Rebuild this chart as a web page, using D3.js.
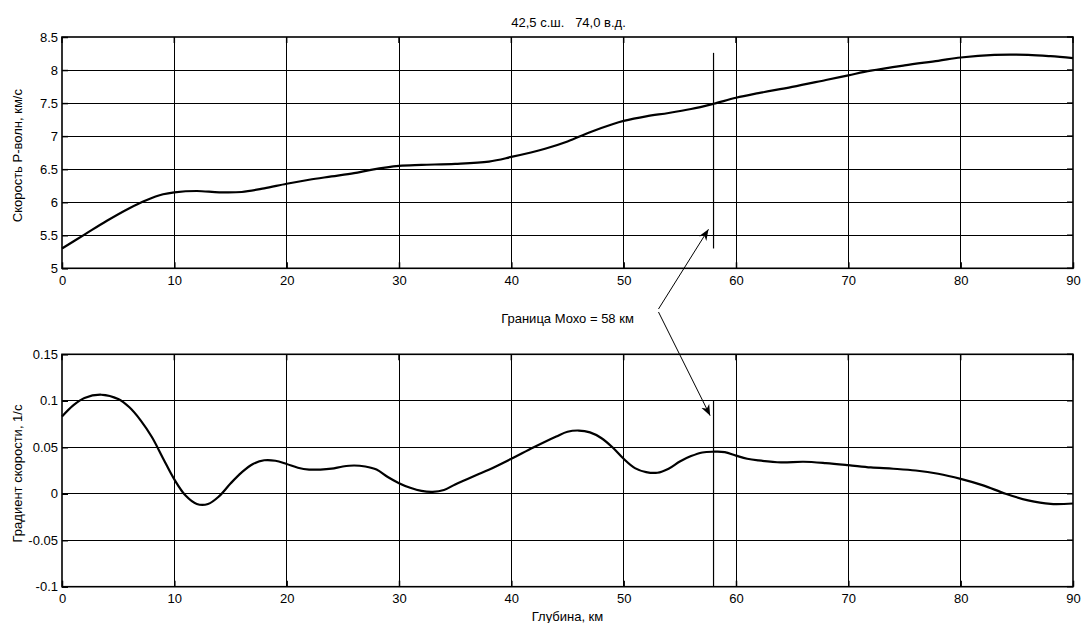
<!DOCTYPE html>
<html><head><meta charset="utf-8">
<script src="https://cdn.jsdelivr.net/npm/d3@7"></script>
<style>
body{margin:0;background:#fff;}
text{font-family:"Liberation Sans",Arial,sans-serif;fill:#000;}
</style></head>
<body><svg id="c" width="1081" height="623"></svg>
<script>
const title = "42,5 с.ш.   74,0 в.д.";
const yLabelTop = "Скорость P-волн, км/с";
const yLabelBottom = "Градиент скорости, 1/с";
const xLabel = "Глубина, км";
const mohoLabel = "Граница Мохо = 58 км";
const mohoDepth = 58;

const xTicks = [0,10,20,30,40,50,60,70,80,90];
const vTicks = [5,5.5,6,6.5,7,7.5,8,8.5];
const gTicks = [-0.1,-0.05,0,0.05,0.1,0.15];

const vDepth = [0,2,4,6,7.5,9,10,12,14,16,18,20,22,24,26,27.5,30,32,35,38,40,43,45,47,49,50,52,54,56,58,60,62,65,68,70,72,75,78,80,83,86,88,90];
const vValues = [5.30,5.51,5.72,5.91,6.03,6.12,6.15,6.17,6.15,6.155,6.21,6.28,6.34,6.39,6.44,6.49,6.55,6.565,6.58,6.615,6.685,6.81,6.92,7.06,7.18,7.23,7.30,7.35,7.41,7.49,7.58,7.65,7.745,7.85,7.92,7.99,8.07,8.14,8.19,8.23,8.23,8.21,8.18];

const gDepth = [0,1,2,3.5,5,6,7,8,9,10,11,12,13,14,15,16,17,18,19,20,21,22,23,24,25,26,27,28,29,30,31,32,33,34,35,36,37,38,40,42,44,45,46,47,48,49,50,51,52,53,54,55,56,57,58,59,60,61,62,64,66,68,70,72,74,76,78,80,82,84,86,88,90];
const gValues = [0.083,0.095,0.103,0.1065,0.102,0.093,0.079,0.061,0.038,0.0154,-0.002,-0.011,-0.011,-0.0025,0.011,0.023,0.032,0.036,0.0355,0.032,0.028,0.026,0.026,0.027,0.0293,0.0304,0.0293,0.026,0.018,0.0114,0.0064,0.003,0.002,0.004,0.010,0.0154,0.0207,0.0258,0.0376,0.050,0.0616,0.0667,0.068,0.066,0.060,0.050,0.0376,0.0276,0.0233,0.0226,0.027,0.0347,0.0405,0.0444,0.0452,0.0448,0.041,0.0376,0.0358,0.0337,0.0344,0.033,0.0308,0.0283,0.0269,0.025,0.0215,0.016,0.009,0.0,-0.0072,-0.011,-0.0105];

const svg = d3.select("#c");
const L = 62, R = 1073;
const FS = 13;
const x = d3.scaleLinear().domain([0,90]).range([L,R]);
const yV = d3.scaleLinear().domain([5,8.5]).range([268.3,37]);
const yG = d3.scaleLinear().domain([-0.1,0.15]).range([586.7,354.3]);

function panel(y, yTicks, fmt, depth, vals, label) {
  const [b,t] = y.range();
  const g = svg.append("g");
  g.selectAll(".gx").data(xTicks.slice(1,-1)).join("line")
    .attr("x1",d=>x(d)).attr("x2",d=>x(d)).attr("y1",t).attr("y2",b)
    .attr("stroke","#000").attr("stroke-width",1).attr("shape-rendering","crispEdges");
  g.selectAll(".gy").data(yTicks.slice(1,-1)).join("line")
    .attr("x1",L).attr("x2",R).attr("y1",d=>y(d)).attr("y2",d=>y(d))
    .attr("stroke","#000").attr("stroke-width",1).attr("shape-rendering","crispEdges");
  const ax = g.append("g").attr("transform",`translate(0,${b})`)
    .call(d3.axisBottom(x).tickValues(xTicks).tickSizeInner(-6).tickSizeOuter(0).tickPadding(7));
  ax.select(".domain").remove();
  const ay = g.append("g").attr("transform",`translate(${L},0)`)
    .call(d3.axisLeft(y).tickValues(yTicks).tickFormat(fmt).tickSizeInner(-6).tickSizeOuter(0).tickPadding(4));
  ay.select(".domain").remove();
  [ax,ay].forEach(a=>{a.selectAll("text").attr("font-size",FS).attr("font-family","Liberation Sans, Arial, sans-serif").attr("fill","#000");
    a.selectAll(".tick line").attr("stroke","#000").attr("stroke-width",1.5);});
  g.selectAll(".tt").data(xTicks).join("line")
    .attr("x1",d=>x(d)).attr("x2",d=>x(d)).attr("y1",t).attr("y2",t+6).attr("stroke","#000").attr("stroke-width",1.5);
  g.selectAll(".tr").data(yTicks).join("line")
    .attr("x1",R-6).attr("x2",R).attr("y1",d=>y(d)).attr("y2",d=>y(d)).attr("stroke","#000").attr("stroke-width",1.5);
  g.append("rect").attr("x",L).attr("y",t).attr("width",R-L).attr("height",b-t)
    .attr("fill","none").attr("stroke","#000").attr("stroke-width",1.6);
  const line = d3.line().x((d,i)=>x(depth[i])).y((d,i)=>y(vals[i])).curve(d3.curveCatmullRom);
  g.append("path").datum(vals).attr("d",line).attr("fill","none").attr("stroke","#000").attr("stroke-width",2.2);
  g.append("text").attr("transform",`translate(22,${(t+b)/2+3}) rotate(-90)`)
    .attr("text-anchor","middle").attr("font-size",FS).text(label);
}

panel(yV, vTicks, d=>String(d), vDepth, vValues, yLabelTop);
panel(yG, gTicks, d=>String(+d.toFixed(2)), gDepth, gValues, yLabelBottom);

svg.append("line").attr("x1",x(mohoDepth)).attr("x2",x(mohoDepth)).attr("y1",yV(8.26)).attr("y2",yV(5.3))
  .attr("stroke","#000").attr("stroke-width",1.2);
svg.append("line").attr("x1",x(mohoDepth)).attr("x2",x(mohoDepth)).attr("y1",yG(0.1)).attr("y2",yG(-0.1))
  .attr("stroke","#000").attr("stroke-width",1.2);

svg.append("text").attr("x",(L+R)/2+1).attr("y",27).attr("text-anchor","middle").attr("font-size",FS)
  .attr("xml:space","preserve").style("white-space","pre").text(title);
svg.append("text").attr("x",(L+R)/2).attr("y",621).attr("text-anchor","middle").attr("font-size",FS).text(xLabel);

svg.append("defs").append("marker").attr("id","ah").attr("viewBox","0 0 10 10").attr("refX",10).attr("refY",5)
  .attr("markerWidth",11).attr("markerHeight",11).attr("markerUnits","userSpaceOnUse").attr("orient","auto")
  .append("path").attr("d","M0,1 L10,5 L0,9 L3,5 Z").attr("fill","#000");
svg.append("text").attr("x",(L+R)/2).attr("y",323).attr("text-anchor","middle").attr("font-size",FS).text(mohoLabel);
const sx = x(53.1);
svg.append("line").attr("x1",sx).attr("y1",309).attr("x2",x(57.55)).attr("y2",yV(5.59))
  .attr("stroke","#000").attr("stroke-width",1).attr("marker-end","url(#ah)");
svg.append("line").attr("x1",sx).attr("y1",312).attr("x2",x(57.7)).attr("y2",yG(0.084))
  .attr("stroke","#000").attr("stroke-width",1).attr("marker-end","url(#ah)");
</script></body></html>
